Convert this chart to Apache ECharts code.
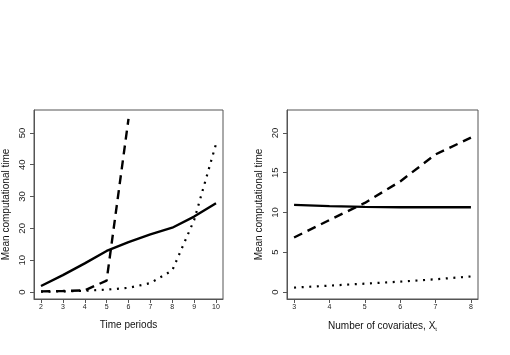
<!DOCTYPE html>
<html>
<head>
<meta charset="utf-8">
<script src="https://cdn.jsdelivr.net/npm/echarts@6/dist/echarts.min.js"></script>
<style>
  html, body { margin: 0; padding: 0; background: #fff; }
  #chart { width: 510px; height: 355px; }
</style>
</head>
<body>
<div id="chart"></div>
<script>
// left panel: time periods
const periods = [2, 3, 4, 5, 6, 7, 8, 9, 10];
const periodsSolid = [1.9, 5.3, 9.0, 12.9, 15.7, 18.1, 20.2, 23.7, 27.9];
const periodsDashed = [0.2, 0.3, 0.5, 3.6, 54.4];
const periodsDotted = [0.1, 0.2, 0.4, 0.75, 1.3, 2.8, 6.8, 22.6, 46.5];
const periodsYTicks = [0, 10, 20, 30, 40, 50];

// right panel: number of covariates
const covariates = [3, 4, 5, 6, 7, 8];
const covSolid = [10.95, 10.8, 10.7, 10.65, 10.65, 10.65];
const covDashed = [6.85, 9.05, 11.2, 13.9, 17.3, 19.4];
const covDotted = [0.55, 0.8, 1.05, 1.3, 1.6, 1.95];
const covYTicks = [0, 5, 10, 15, 20];

const pairs = (xs, ys) => ys.map((y, i) => [xs[i], y]);

const font = 'Liberation Sans, Arial, sans-serif';
const boxColor = '#555';

function xAxisFor(idx, min, max, ticks, name) {
  return {
    type: 'value', gridIndex: idx, min: min, max: max,
    name: name, nameLocation: 'middle', nameGap: 21,
    nameTextStyle: {
      fontFamily: font, fontSize: 10, color: '#111',
      rich: { sub: { fontFamily: font, fontSize: 6, color: '#111', verticalAlign: 'bottom', padding: [6, 0, 0, 0] } }
    },
    axisLine: { show: true, onZero: false, lineStyle: { color: boxColor, width: 1 } },
    axisTick: { show: true, length: 4, customValues: ticks, lineStyle: { color: boxColor } },
    axisLabel: { customValues: ticks, fontFamily: font, fontSize: 7, color: '#222', margin: 5 },
    splitLine: { show: false }
  };
}

function yAxisFor(idx, min, max, ticks) {
  return {
    type: 'value', gridIndex: idx, min: min, max: max,
    name: 'Mean computational time', nameLocation: 'middle', nameGap: 23,
    nameTextStyle: { fontFamily: font, fontSize: 10, color: '#111' },
    axisLine: { show: true, onZero: false, lineStyle: { color: boxColor, width: 1 } },
    axisTick: { show: true, length: 4, customValues: ticks, lineStyle: { color: boxColor } },
    axisLabel: { customValues: ticks, rotate: 90, fontFamily: font, fontSize: 9.5, color: '#222', margin: 7 },
    splitLine: { show: false }
  };
}

function line(idx, data, kind) {
  const dash = kind === 'solid' ? 'solid' : (kind === 'dashed' ? [9, 6] : [2, 5.6]);
  return {
    type: 'line', xAxisIndex: idx, yAxisIndex: idx, data: data,
    showSymbol: false, symbol: 'none', silent: true,
    lineStyle: { color: '#000', width: kind === 'dotted' ? 2.2 : 2.4, type: dash }
  };
}

const chart = echarts.init(document.getElementById('chart'), null, { renderer: 'canvas' });
chart.setOption({
  animation: false,
  backgroundColor: '#fff',
  grid: [
    { left: 32, top: 110, width: 191, height: 189, show: true, borderColor: boxColor, borderWidth: 1 },
    { left: 287, top: 110, width: 191, height: 189, show: true, borderColor: boxColor, borderWidth: 1 }
  ],
  xAxis: [
    xAxisFor(0, 1.68, 10.32, periods, 'Time periods'),
    xAxisFor(1, 2.8, 8.2, covariates, 'Number of covariates, X{sub|t}')
  ],
  yAxis: [
    yAxisFor(0, -2.2, 57.2, periodsYTicks),
    yAxisFor(1, -0.88, 22.88, covYTicks)
  ],
  series: [
    line(0, pairs(periods, periodsSolid), 'solid'),
    line(0, pairs(periods, periodsDashed), 'dashed'),
    line(0, pairs(periods, periodsDotted), 'dotted'),
    line(1, pairs(covariates, covSolid), 'solid'),
    line(1, pairs(covariates, covDashed), 'dashed'),
    line(1, pairs(covariates, covDotted), 'dotted')
  ]
});
</script>
</body>
</html>
